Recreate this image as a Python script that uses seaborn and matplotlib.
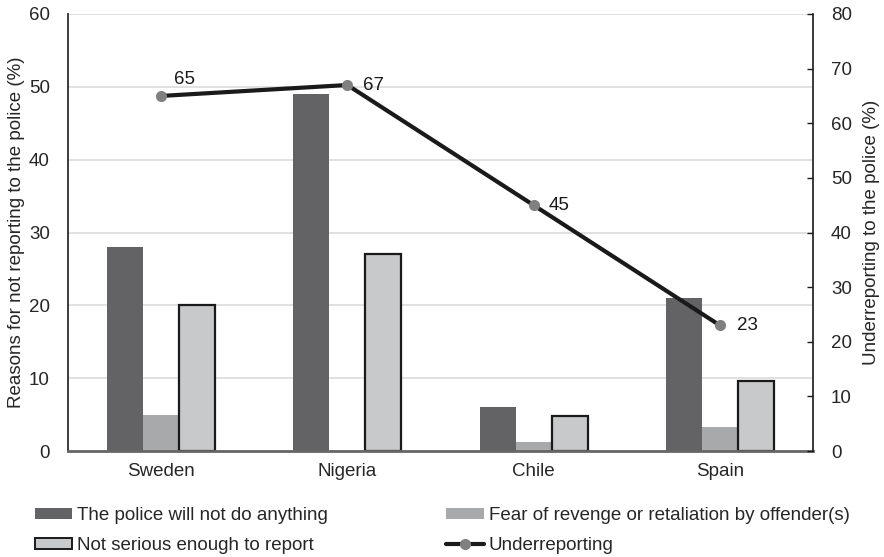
import matplotlib
matplotlib.use("Agg")
import matplotlib.pyplot as plt
import seaborn as sns
import pandas as pd
from matplotlib.patches import Patch
from matplotlib.lines import Line2D

countries = ["Sweden", "Nigeria", "Chile", "Spain"]
police_nothing = [28, 49, 6, 21]
fear_revenge = [5, 0, 1.3, 3.3]
not_serious = [20, 27, 4.8, 9.6]
underreporting = [65, 67, 45, 23]

series_names = ["The police will not do anything",
                "Fear of revenge or retaliation by offender(s)",
                "Not serious enough to report"]
line_name = "Underreporting"

colors = ["#636365", "#a8a9ab", "#c8c9cb"]
FS = 13.5

rows = []
for name, vals in zip(series_names, [police_nothing, fear_revenge, not_serious]):
    for c, v in zip(countries, vals):
        rows.append({"Country": c, "Reason": name, "Value": v})
df = pd.DataFrame(rows)

sns.set_theme(style="white")
plt.rcParams["font.family"] = ["Liberation Sans", "DejaVu Sans"]

fig = plt.figure(figsize=(8.84, 5.57), dpi=100)
ax = fig.add_axes([68/884, 1-451/557, (813-68)/884, (451-14)/557])

sns.barplot(data=df, x="Country", y="Value", hue="Reason", order=countries,
            hue_order=series_names, palette=colors, width=0.58, ax=ax,
            saturation=1, legend=False)

ns_container = ax.containers[2]
for bar in ns_container:
    bar.set_edgecolor("#1a1a1a")
    bar.set_linewidth(1.6)
for cont in ax.containers[:2]:
    for bar in cont:
        bar.set_edgecolor("none")

ax.set_ylim(0, 60)
ax.set_yticks(range(0, 61, 10))
ax.set_xlim(-0.5, 3.5)
ax.yaxis.grid(True, color="#dcdcdc", linewidth=1.2)
ax.set_axisbelow(True)
ax.set_xlabel("")
ax.set_ylabel("Reasons for not reporting to the police (%)", fontsize=FS, labelpad=3)
ax.tick_params(axis="y", labelsize=FS, length=0, pad=13)
ax.tick_params(axis="x", labelsize=FS, length=0, pad=9)
for s in ["top", "right"]:
    ax.spines[s].set_visible(False)
ax.spines["left"].set_color("#1a1a1a")
ax.spines["left"].set_linewidth(1.2)
ax.spines["bottom"].set_color("#666666")
ax.spines["bottom"].set_linewidth(2)

ax2 = ax.twinx()
xpos = list(range(len(countries)))
ax2.plot(xpos, underreporting, color="#1a1a1a", linewidth=3,
         marker="o", markersize=7, markerfacecolor="#808080",
         markeredgecolor="#808080", zorder=5)
label_offsets = [(9, 12), (11, 0), (11, 0), (12, 0)]
for x, v, (dx, dy) in zip(xpos, underreporting, label_offsets):
    ax2.annotate(f"{v}", (x, v), xytext=(dx, dy), textcoords="offset points",
                 fontsize=FS, va="center", ha="left", color="#1a1a1a")
ax2.set_ylim(0, 80)
ax2.set_yticks(range(0, 81, 10))
ax2.set_ylabel("Underreporting to the police (%)", fontsize=FS, labelpad=8)
ax2.tick_params(axis="y", labelsize=FS, direction="in", length=4,
                width=1, color="#1a1a1a", pad=13)
for s in ["top", "left", "bottom"]:
    ax2.spines[s].set_visible(False)
ax2.spines["right"].set_color("#1a1a1a")
ax2.spines["right"].set_linewidth(1.2)
ax2.grid(False)

handles = [
    Patch(facecolor=colors[0], edgecolor="none", label=series_names[0]),
    Patch(facecolor=colors[2], edgecolor="#1a1a1a", linewidth=1.4, label=series_names[2]),
    Patch(facecolor=colors[1], edgecolor="none", label=series_names[1]),
    Line2D([0], [0], color="#1a1a1a", linewidth=3, marker="o", markersize=7,
           markerfacecolor="#808080", markeredgecolor="#808080", label=line_name),
]
fig.legend(handles=handles, ncol=2, loc="upper left",
           bbox_to_anchor=(18/884, 1-490/557), frameon=False,
           fontsize=FS, handlelength=2.0, handleheight=0.5,
           handletextpad=0.27, columnspacing=6.3, labelspacing=0.7)

fig.savefig("out.png", dpi=100)
